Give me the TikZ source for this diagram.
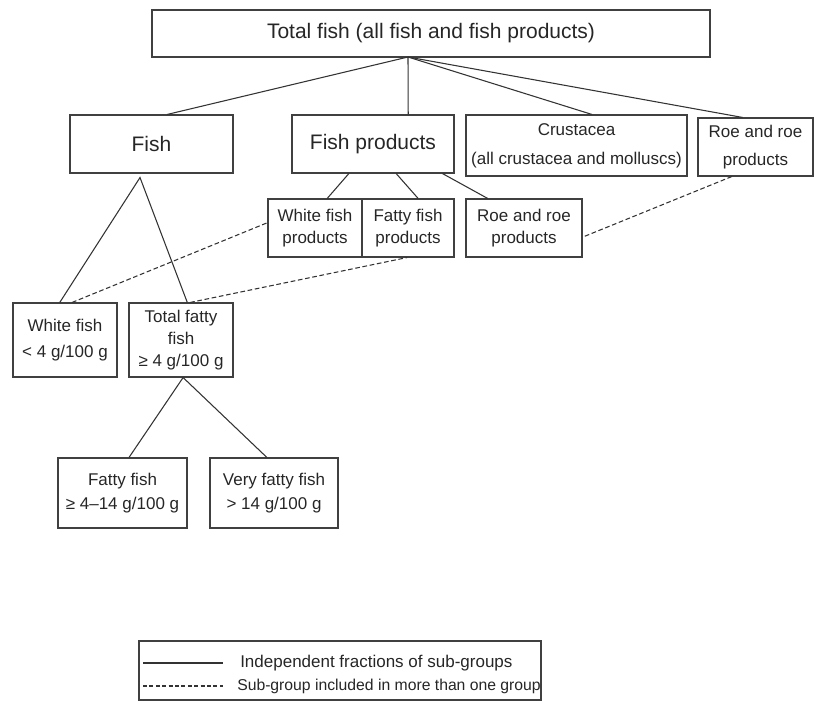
\documentclass[tikz,border=0pt]{standalone}
\usepackage{fontspec}
\setmainfont{Liberation Sans}
\usetikzlibrary{calc}
\tikzset{
  box/.style={draw=black!75, line width=0.8pt, inner sep=0pt, align=center, text=black!85,
    font=\fontsize{12.75}{16.5}\selectfont},
  bigbox/.style={box, font=\fontsize{15.75}{19}\selectfont},
  part/.style={line width=0.8pt, draw=black!80},
  shared/.style={line width=0.8pt, draw=black!80, dash pattern=on 3.5pt off 2pt},
  legtext/.style={anchor=west, inner sep=0pt, text=black!85, font=\fontsize{12.75}{15}\selectfont},
}

\begin{document}
\begin{tikzpicture}[x=0.75pt, y=-0.75pt]
\useasboundingbox (0,0) rectangle (814,704);
% boxes
\node[bigbox, minimum width=418.5pt, minimum height=35.25pt] (total) at (431,33.5) {Total fish (all fish and fish products)};
\node[bigbox, minimum width=122.25pt, minimum height=43.5pt] (fish) at (151.5,144) {Fish};
\node[bigbox, minimum width=121.5pt, minimum height=43.5pt] (fishprod) at (373,144) {Fish products};
\node[box, minimum width=165.75pt, minimum height=45.75pt] (crust) at (576.5,145.5) {Crustacea\\[5pt](all crustacea and molluscs)};
\node[box, minimum width=86.25pt, minimum height=43.5pt] (roe) at (755.5,147) {Roe and roe\\[5pt]products};
\node[box, minimum width=70.5pt, minimum height=43.5pt] (whiteprod) at (315,228) {White fish\\products};
\node[box, minimum width=69pt, minimum height=43.5pt] (fattyprod) at (408,228) {Fatty fish\\products};
\node[box, minimum width=87pt, minimum height=43.5pt] (roeprod) at (524,228) {Roe and roe\\products};
\node[box, minimum width=78pt, minimum height=55.5pt] (whitefish) at (65,340) {White fish\\[3pt]< 4 g/100 g};
\node[box, minimum width=78pt, minimum height=55.5pt] (totalfatty) at (181,340) {Total fatty\\fish\\≥ 4 g/100 g};
\node[box, minimum width=96.75pt, minimum height=52.5pt] (fatty) at (122.5,493) {Fatty fish\\[1pt]≥ 4–14 g/100 g};
\node[box, minimum width=96pt, minimum height=52.5pt] (veryfatty) at (274,493) {Very fatty fish\\[2pt]> 14 g/100 g};
\coordinate (apex) at (408,57);
% independent fractions
\draw[part] (apex) -- ($(fish.north west)!.595!(fish.north east)$);
\draw[part] (apex) -- ($(fishprod.north west)!.716!(fishprod.north east)$);
\draw[part] (apex) -- ($(crust.north west)!.57!(crust.north east)$);
\draw[part] (apex) -- ($(roe.north west)!.39!(roe.north east)$);
\draw[part] ($(fishprod.south west)!.352!(fishprod.south east)$) -- ($(whiteprod.north west)!.628!(whiteprod.north east)$);
\draw[part] ($(fishprod.south west)!.642!(fishprod.south east)$) -- ($(fattyprod.north west)!.609!(fattyprod.north east)$);
\draw[part] ($(fishprod.south west)!.926!(fishprod.south east)$) -- ($(roeprod.north west)!.19!(roeprod.north east)$);
\draw[part] ($(whitefish.north west)!.45!(whitefish.north east)$) -- ([yshift=-3pt]$(fish.south west)!.43!(fish.south east)$) -- ($(totalfatty.north west)!.56!(totalfatty.north east)$);
\draw[part] ($(fatty.north west)!.55!(fatty.north east)$) -- ($(totalfatty.south west)!.52!(totalfatty.south east)$) -- ($(veryfatty.north west)!.445!(veryfatty.north east)$);
% sub-groups in more than one group
\draw[shared] ($(whitefish.north west)!.567!(whitefish.north east)$) -- ($(whiteprod.north west)!.41!(whiteprod.south west)$);
\draw[shared] ($(totalfatty.north west)!.587!(totalfatty.north east)$) -- ($(fattyprod.south west)!.49!(fattyprod.south east)$);
\draw[shared] ($(roe.south west)!.296!(roe.south east)$) -- ($(roeprod.north east)!.655!(roeprod.south east)$);
% legend
\node[draw=black!75, line width=0.8pt, minimum width=301.5pt, minimum height=44.25pt, inner sep=0pt] (legend) at (340,670.5) {};
\coordinate (solidA) at (143,663);
\coordinate (solidB) at (223,663);
\coordinate (dashA) at (143,686);
\coordinate (dashB) at (223,686);
\draw[part, line width=1.1pt] (solidA) -- (solidB);
\draw[shared, line width=1.1pt, dash pattern=on 3pt off 1.8pt] (dashA) -- (dashB);
\node[legtext] (solidtext) at (240,663) {Independent fractions of sub-groups};
\node[legtext, font=\fontsize{11.8}{14}\selectfont] (dashtext) at (237,686) {Sub-group included in more than one group};
\end{tikzpicture}
\end{document}
